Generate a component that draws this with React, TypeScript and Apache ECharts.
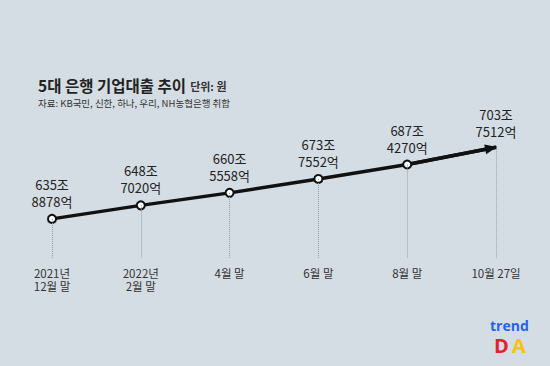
import React, { useEffect, useRef } from "react";
import * as echarts from "echarts";

const categories = ["2021년\n12월 말", "2022년\n2월 말", "4월 말", "6월 말", "8월 말", "10월 27일"];
const jo = [635, 648, 660, 673, 687, 703];
const eok = [8878, 7020, 5558, 7552, 4270, 7512];
const values = jo.map((j, i) => j + eok[i] / 10000);

const TITLE = "5대 은행 기업대출 추이";
const UNIT = "단위: 원";
const SOURCE = "자료: KB국민, 신한, 하나, 우리, NH농협은행 취합";

const BG = "#d5dde4";
const FONT = "'Noto Sans CJK KR', 'Noto Sans', sans-serif";

export default function App() {
  const ref = useRef<HTMLDivElement>(null);
  useEffect(() => {
    if (!ref.current) return;
    const chart = echarts.init(ref.current, undefined, { renderer: "svg" });
    const last = values.length - 1;
    const seriesData = values.map((v, i) =>
      i === last
        ? {
            value: v,
            symbol: "circle",
            symbolSize: 2,
            itemStyle: { color: "#111", borderWidth: 0 },
            label: { distance: 6 },
          }
        : { value: v }
    );
    chart.setOption({
      animation: false,
      backgroundColor: BG,
      textStyle: { fontFamily: FONT },
      title: {
        left: 33,
        top: 71,
        text: `{a|${TITLE}} {b|${UNIT}}`,
        textStyle: {
          rich: {
            a: { fontSize: 15.5, fontWeight: "bold", color: "#222", fontFamily: FONT },
            b: { fontSize: 11, color: "#333", fontFamily: FONT, padding: [2, 0, 0, 0] },
          },
        },
        subtext: SOURCE,
        itemGap: 4,
        subtextStyle: { fontSize: 9.5, color: "#333", fontFamily: FONT },
      },
      grid: { left: 52, right: 54, top: 100, bottom: 108 },
      xAxis: {
        type: "category",
        data: categories,
        boundaryGap: false,
        axisLine: { show: false },
        axisTick: { show: false },
        axisLabel: {
          interval: 0,
          margin: 8,
          fontSize: 11.5,
          lineHeight: 13,
          color: "#333",
          fontFamily: FONT,
        },
      },
      yAxis: {
        type: "value",
        min: 598.8,
        max: 748.6,
        show: false,
        splitLine: { show: false },
      },
      series: [
        {
          type: "line",
          data: values,
          symbol: "none",
          silent: true,
          z: 1,
          lineStyle: { width: 0, opacity: 0 },
          markLine: {
            silent: true,
            symbol: ["none", "none"],
            label: { show: false },
            lineStyle: { color: "#9a9fa5", type: "dotted", width: 1 },
            emphasis: { disabled: true },
            data: values.map((v, i) => [
              { coord: [i, v] },
              { coord: [i, 598.8] },
            ]),
          },
        },
        {
          type: "line",
          data: seriesData,
          z: 3,
          symbol: "circle",
          symbolSize: 8,
          showSymbol: true,
          silent: true,
          lineStyle: { color: "#111", width: 3.5 },
          itemStyle: { color: "#fff", borderColor: "#111", borderWidth: 2 },
          label: {
            show: true,
            position: "top",
            distance: 4,
            fontSize: 13,
            lineHeight: 17,
            color: "#222",
            fontFamily: FONT,
            formatter: (p: any) => `${jo[p.dataIndex]}조\n${eok[p.dataIndex]}억`,
          },
          markLine: {
            silent: true,
            z: 1,
            symbol: ["none", "triangle"],
            symbolSize: [10, 12],
            symbolOffset: [[0, 0], [0, 5]],
            label: { show: false },
            emphasis: { disabled: true },
            lineStyle: { color: "#111", width: 3.5, type: "solid" },
            data: [[{ coord: [last - 1, values[last - 1]] }, { coord: [last, values[last]] }]],
          },
        },
      ],
      graphic: [
        {
          type: "text",
          left: 490,
          top: 318,
          style: { text: "trend", fontSize: 14, lineHeight: 14, fontWeight: "bold", fill: "#2563e6", fontFamily: "'Open Sans', sans-serif" },
        },
        {
          type: "text",
          left: 494,
          top: 335,
          style: { text: "D", fontSize: 20, lineHeight: 17, fontWeight: "bold", fill: "#e3222b", fontFamily: "'Open Sans', sans-serif" },
        },
        {
          type: "text",
          left: 512,
          top: 335,
          style: { text: "A", fontSize: 20, lineHeight: 17, fontWeight: "bold", fill: "#f6c400", fontFamily: "'Open Sans', sans-serif" },
        },
      ],
    });
    return () => chart.dispose();
  }, []);
  return (
    <div
      ref={ref}
      style={{ position: "fixed", left: 0, top: 0, width: 550, height: 366, background: BG }}
    />
  );
}
